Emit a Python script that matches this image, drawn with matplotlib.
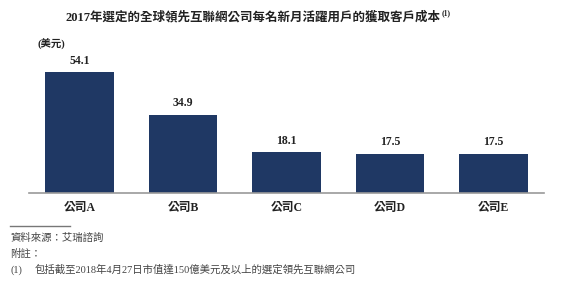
import matplotlib
matplotlib.use("Agg")
import matplotlib.pyplot as plt

plt.rcParams['font.family'] = ['Liberation Serif', 'Noto Sans CJK TC']

companies = ['公司A', '公司B', '公司C', '公司D', '公司E']
cost = [54.1, 34.9, 18.1, 17.5, 17.5]

title = '2017年選定的全球領先互聯網公司每名新月活躍用戶的獲取客戶成本'
unit = '(美元)'
source = '資料來源：艾瑞諮詢'
note_head = '附註：'
note1 = '包括截至2018年4月27日市值達150億美元及以上的選定領先互聯網公司'

bar_color = '#1f3864'
text_color = '#222222'

fig = plt.figure(figsize=(5.88, 2.89), dpi=100)
ax = fig.add_axes([29 / 588, 0.3332, 515 / 588, 0.4622])

x = range(len(companies))
ax.bar(x, cost, width=0.664, color=bar_color)
for xi, v in zip(x, cost):
    ax.text(xi, v + 2.5, f'{v}', ha='center', va='bottom', fontsize=8.5,
            fontweight='bold', color=text_color)

ax.set_xlim(-0.49, 4.49)
ax.set_ylim(0, 60)
ax.set_xticks(list(x))
ax.set_xticklabels(companies, fontsize=8.5, fontweight='bold', color=text_color)
ax.tick_params(axis='x', length=0, pad=7)
ax.set_yticks([])
for s in ['top', 'right', 'left']:
    ax.spines[s].set_visible(False)
ax.spines['bottom'].set_color('#9a9a9a')
ax.spines['bottom'].set_linewidth(1.2)

# title with small superscript note marker
t = fig.text(0.43, 0.94, title, ha='center', va='center', fontsize=9,
             fontweight='bold', color=text_color)
fig.canvas.draw()
bb = t.get_window_extent()
fig.text(bb.x1 / 588 + 0.002, 0.955, '(1)', ha='left', va='center',
         fontsize=5.5, fontweight='bold', color=text_color)

fig.text(37 / 588, 1 - 43 / 289, unit, ha='left', va='center',
         fontsize=7.5, fontweight='bold', color=text_color)

# footnotes
fig.add_artist(plt.Line2D([10 / 588, 70 / 588], [1 - 226 / 289, 1 - 226 / 289],
                          color='#777777', linewidth=1))
fig.text(10 / 588, 1 - 238 / 289, source, ha='left', va='center', fontsize=7.5,
         style='italic', color='#444444')
fig.text(10 / 588, 1 - 254 / 289, note_head, ha='left', va='center', fontsize=7.5,
         style='italic', color='#444444')
fig.text(10 / 588, 1 - 270 / 289, '(1)', ha='left', va='center', fontsize=7.5,
         color='#444444')
fig.text(35 / 588, 1 - 270 / 289, note1, ha='left', va='center', fontsize=7.5,
         color='#444444')

fig.savefig('out.png', dpi=100, facecolor='white')
